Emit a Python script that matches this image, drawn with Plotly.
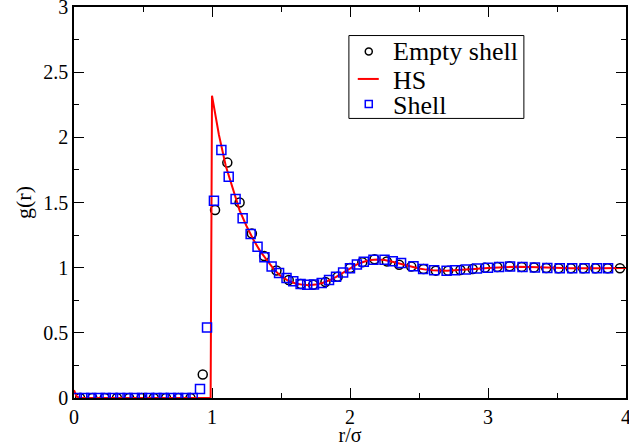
import plotly.graph_objects as go

# HS reference curve (red line)
hs_r = [0.0, 0.02, 0.05, 0.3, 0.6, 0.9, 0.99, 1.0, 1.05, 1.1, 1.15, 1.2, 1.25, 1.3, 1.35, 1.4,
        1.45, 1.5, 1.55, 1.6, 1.65, 1.7, 1.75, 1.8, 1.85, 1.9, 1.95, 2.0, 2.05, 2.1, 2.15,
        2.2, 2.25, 2.3, 2.35, 2.4, 2.45, 2.5, 2.55, 2.6, 2.7, 2.8, 2.9, 3.0, 3.1, 3.2, 3.3,
        3.4, 3.5, 3.6, 3.8, 4.0]
hs_g = [0.06, 0.01, 0.0, 0.0, 0.0, 0.0, 0.0, 2.32, 2.02, 1.78, 1.60, 1.44, 1.32, 1.215, 1.125, 1.05,
        0.985, 0.935, 0.90, 0.88, 0.87, 0.866, 0.87, 0.883, 0.903, 0.93, 0.962, 0.995, 1.025, 1.045, 1.058,
        1.062, 1.058, 1.048, 1.035, 1.02, 1.005, 0.993, 0.985, 0.98, 0.977, 0.982, 0.99, 0.998, 1.004, 1.007, 1.005,
        1.0, 0.997, 0.995, 0.996, 0.998]

# Empty shell (black circles)
es_r = [0.044, 0.133, 0.222, 0.311, 0.4, 0.489, 0.578, 0.667, 0.756, 0.844, 0.933, 1.022, 1.111, 1.2,
        1.289, 1.378, 1.467, 1.556, 1.644, 1.733, 1.822, 1.911, 2.0, 2.089, 2.178, 2.267, 2.356, 2.444,
        2.533, 2.622, 2.711, 2.8, 2.889, 2.978, 3.067, 3.156, 3.244, 3.333, 3.422, 3.511, 3.6, 3.689,
        3.778, 3.867, 3.956]
es_g = [0.0, 0.0, 0.0, 0.0, 0.0, 0.0, 0.0, 0.0, 0.0, 0.0, 0.18, 1.443, 1.806, 1.50,
        1.262, 1.09, 0.978, 0.905, 0.875, 0.868, 0.89, 0.93, 0.998, 1.042, 1.064, 1.048, 1.022, 1.008,
        0.99, 0.977, 0.977, 0.982, 0.99, 1.0, 1.005, 1.01, 1.006, 1.002, 0.998, 0.996, 0.995, 0.995,
        0.995, 0.996, 0.996]

# Shell (blue squares)
sh_r = [0.02, 0.073, 0.125, 0.178, 0.23, 0.283, 0.335, 0.388, 0.44, 0.493, 0.545, 0.598, 0.65, 0.703,
        0.755, 0.808, 0.86, 0.913, 0.964, 1.014, 1.068, 1.121, 1.171, 1.222, 1.28, 1.33, 1.38, 1.432,
        1.486, 1.54, 1.589, 1.642, 1.69, 1.739, 1.795, 1.848, 1.899, 1.95, 2.0, 2.05, 2.10, 2.17, 2.25,
        2.31, 2.37, 2.46, 2.53, 2.61, 2.70, 2.76, 2.84, 2.92, 3.0, 3.08, 3.16, 3.25, 3.34, 3.43, 3.52,
        3.61, 3.70, 3.79, 3.87]
sh_g = [0.0, 0.0, 0.0, 0.0, 0.0, 0.0, 0.0, 0.0, 0.0, 0.0, 0.0, 0.0, 0.0, 0.0,
        0.0, 0.0, 0.0, 0.07, 0.54, 1.514, 1.903, 1.698, 1.527, 1.379, 1.259, 1.161, 1.08, 1.008,
        0.96, 0.92, 0.895, 0.875, 0.868, 0.87, 0.883, 0.905, 0.93, 0.962, 0.995, 1.025, 1.045, 1.06, 1.06,
        1.05, 1.035, 1.01, 0.99, 0.98, 0.977, 0.98, 0.985, 0.993, 1.0, 1.005, 1.008, 1.006, 1.002, 0.998,
        0.996, 0.995, 0.995, 0.995, 0.996]

x_ticks = [0, 1, 2, 3, 4]
y_ticks = [0, 0.5, 1, 1.5, 2, 2.5, 3]
y_tick_text = ["0", "0.5", "1", "1.5", "2", "2.5", "3"]

legend_labels = ["Empty shell", "HS", "Shell"]

font_family = "Liberation Serif"

fig = go.Figure()
fig.add_trace(go.Scatter(
    x=es_r, y=es_g, mode="markers", name=legend_labels[0], showlegend=False,
    marker=dict(symbol="circle-open", size=9, color="black", line=dict(width=1.5, color="black")),
))
fig.add_trace(go.Scatter(
    x=hs_r, y=hs_g, mode="lines", name=legend_labels[1], showlegend=False,
    line=dict(color="red", width=2),
))
fig.add_trace(go.Scatter(
    x=sh_r, y=sh_g, mode="markers", name=legend_labels[2], showlegend=False,
    marker=dict(symbol="square-open", size=9, color="blue", line=dict(width=1.5, color="blue")),
))

# ---- hand-built legend box (paper coordinates of the plot area) ----
box_x0, box_x1, box_y0, box_y1 = 0.498, 0.815, 0.715, 0.927
sym_x = 0.534
text_x = 0.5737
row_y = [0.886, 0.813, 0.749]

shapes = [
    dict(type="rect", xref="paper", yref="paper", x0=box_x0, x1=box_x1, y0=box_y0, y1=box_y1,
         line=dict(color="black", width=1), fillcolor="white", layer="above"),
    dict(type="circle", xref="paper", yref="paper", xsizemode="pixel", ysizemode="pixel",
         xanchor=sym_x, yanchor=row_y[0], x0=-3.5, x1=3.5, y0=-3.5, y1=3.5,
         line=dict(color="black", width=1.5), layer="above"),
    dict(type="line", xref="paper", yref="paper", xsizemode="pixel", ysizemode="pixel",
         xanchor=sym_x, yanchor=row_y[1] + 0.003, x0=-11, x1=10, y0=0, y1=0,
         line=dict(color="red", width=2), layer="above"),
    dict(type="rect", xref="paper", yref="paper", xsizemode="pixel", ysizemode="pixel",
         xanchor=sym_x, yanchor=row_y[2] + 0.003, x0=-3.5, x1=3.5, y0=-3.5, y1=3.5,
         line=dict(color="blue", width=1.5), layer="above"),
]
annotations = [
    dict(text=lab, xref="paper", yref="paper", x=text_x, y=yy, xanchor="left", yanchor="middle",
         showarrow=False, font=dict(family=font_family, size=26, color="black"))
    for lab, yy in zip(legend_labels, row_y)
]

axis_common = dict(
    showgrid=False, zeroline=False, showline=True, linecolor="black", linewidth=1.5,
    mirror="allticks", ticks="inside", ticklen=10, tickwidth=1.2, tickcolor="black",
    tickfont=dict(family=font_family, size=20, color="black"),
    automargin=False, ticklabeloverflow="allow",
)

fig.update_layout(
    width=629, height=446,
    margin=dict(l=74, r=3, t=7, b=48),
    paper_bgcolor="white", plot_bgcolor="white",
    font=dict(family=font_family, color="black"),
    showlegend=False,
    shapes=shapes,
    annotations=annotations,
    xaxis=dict(
        range=[0, 4], tickvals=x_ticks, ticktext=[str(v) for v in x_ticks],
        minor=dict(dtick=0.5, ticks="inside", ticklen=5, tickwidth=1.2, tickcolor="black", showgrid=False),
        title=dict(text="r/σ", font=dict(family=font_family, size=20, color="black"), standoff=0),
        **axis_common,
    ),
    yaxis=dict(
        range=[0, 3], tickvals=y_ticks, ticktext=y_tick_text,
        minor=dict(dtick=0.25, ticks="inside", ticklen=5, tickwidth=1.2, tickcolor="black", showgrid=False),
        title=dict(text="g(r)", font=dict(family=font_family, size=22, color="black"), standoff=6),
        **axis_common,
    ),
)

fig.write_html("out.html", config={"displayModeBar": False},
               post_script="document.body.style.margin='0';")
